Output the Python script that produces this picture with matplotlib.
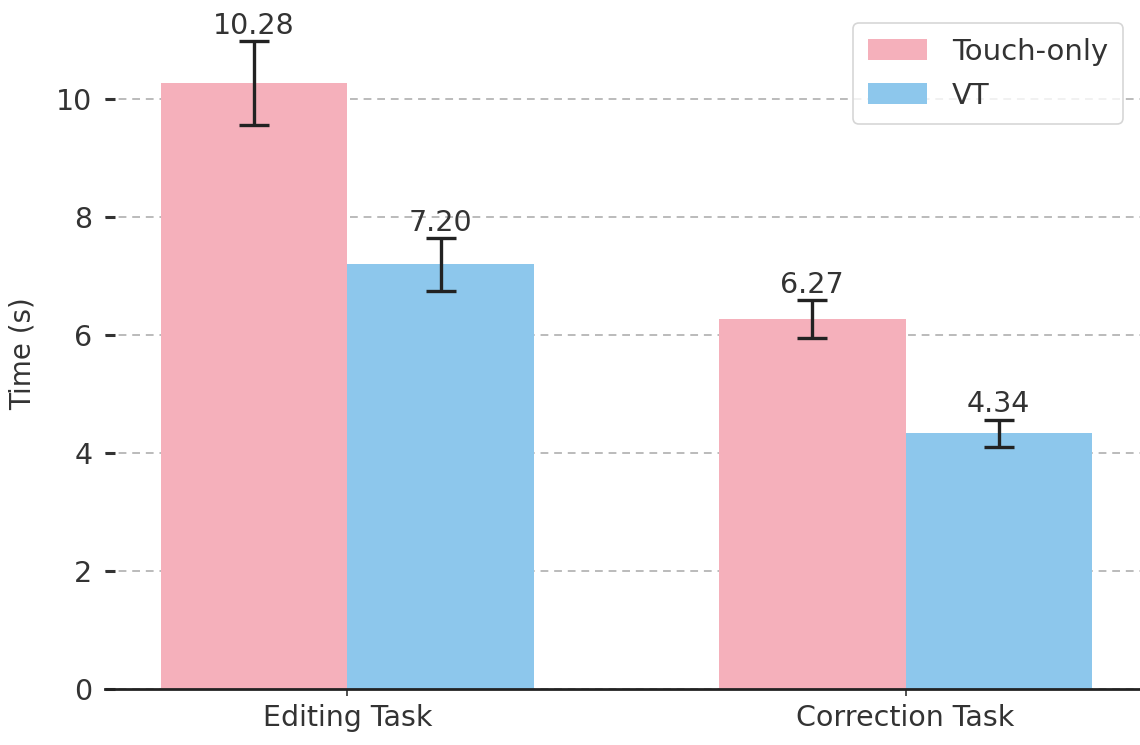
import numpy as np
import matplotlib
matplotlib.use("Agg")
import matplotlib.pyplot as plt

# Data
tasks = ["Editing Task", "Correction Task"]
series_names = ["Touch-only", "VT"]
touch_means = [10.28, 6.27]
touch_errs = [0.71, 0.32]
vt_means = [7.20, 4.34]
vt_errs = [0.45, 0.23]

PINK = "#F5B0BB"
BLUE = "#8DC7EC"
TEXT = "#333333"
FS = 20.5

plt.rcParams["font.family"] = "DejaVu Sans"

fig = plt.figure(figsize=(11.4, 7.45), dpi=100)
ax = fig.add_axes([105 / 1140, 56 / 745, 1035 / 1140, 684 / 745])

x = np.arange(len(tasks))
width = 0.334

ax.bar(x - width / 2, touch_means, width, color=PINK, label=series_names[0], zorder=2)
ax.bar(x + width / 2, vt_means, width, color=BLUE, label=series_names[1], zorder=2)

err_style = dict(fmt="none", ecolor="#222222", elinewidth=2.4, capsize=11, capthick=2.4, zorder=3)
ax.errorbar(x - width / 2, touch_means, yerr=touch_errs, **err_style)
ax.errorbar(x + width / 2, vt_means, yerr=vt_errs, **err_style)

# value labels above the error bars
for xs, means, errs in [(x - width / 2, touch_means, touch_errs), (x + width / 2, vt_means, vt_errs)]:
    for xi, m, e in zip(xs, means, errs):
        ax.annotate(f"{m:.2f}", (xi, m + e), xytext=(0, 1), textcoords="offset points",
                    ha="center", va="bottom", fontsize=FS, color=TEXT)

ax.set_xlim(-0.434, 1.42)
ax.set_ylim(0, 11.6)
ax.set_yticks([0, 2, 4, 6, 8, 10])
ax.set_xticks(x)
ax.set_xticklabels(tasks)
ax.set_ylabel("Time (s)", fontsize=20, color=TEXT)
ax.yaxis.set_label_coords(-0.066, 0.49)

ax.tick_params(axis="both", labelsize=FS, colors=TEXT)
ax.tick_params(axis="y", direction="in", length=7, width=2.2, pad=9)
ax.tick_params(axis="x", length=5, width=1.2, pad=6)

ax.yaxis.grid(True, linestyle=(0, (4, 3)), color="#BBBBBB", linewidth=1.4, zorder=0)
ax.set_axisbelow(True)

for side in ["left", "top", "right"]:
    ax.spines[side].set_visible(False)
ax.spines["bottom"].set_color("#222222")
ax.spines["bottom"].set_linewidth(2)

leg = ax.legend(loc="upper right", fontsize=21, frameon=True, fancybox=True,
                handlelength=2.05, handleheight=0.7, borderpad=0.5, handletextpad=0.85,
                labelspacing=0.55, borderaxespad=0,
                bbox_to_anchor=(1123 / 1140, 1 - 23 / 745), bbox_transform=fig.transFigure)
leg.get_frame().set_edgecolor("#CCCCCC")
leg.get_frame().set_linewidth(1.2)
for t in leg.get_texts():
    t.set_color(TEXT)

fig.savefig("out.png", dpi=100)
plt.close(fig)
